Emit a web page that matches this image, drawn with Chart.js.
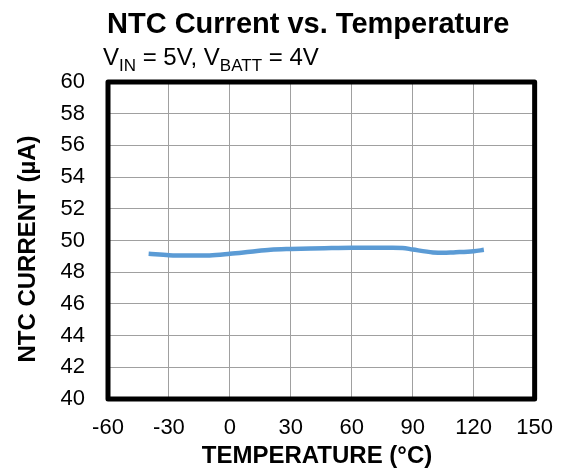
<!DOCTYPE html>
<html>
<head>
<meta charset="utf-8">
<script src="https://cdn.jsdelivr.net/npm/chart.js@4/dist/chart.umd.min.js"></script>
<style>
  html, body { margin: 0; padding: 0; background: #fff; }
  #wrap { width: 569px; height: 469px; }
</style>
</head>
<body>
<div id="wrap"><canvas id="c" width="569" height="469"></canvas></div>
<script>
// Temperature sweep (°C) and measured NTC current (µA)
const temperatures = [-40, -30, -20, -10, 0, 10, 20, 30, 40, 50, 60, 70, 80, 85, 90, 100, 105, 110, 120, 125];
const ntcCurrent   = [49.16, 49.07, 49.05, 49.06, 49.16, 49.29, 49.42, 49.47, 49.50, 49.52, 49.54, 49.54, 49.54, 49.53, 49.43, 49.25, 49.22, 49.25, 49.32, 49.41];

const xTicks = [-60, -30, 0, 30, 60, 90, 120, 150];
const yTicks = [40, 42, 44, 46, 48, 50, 52, 54, 56, 58, 60];

const chartTitle = 'NTC Current vs. Temperature';
const xTitle = 'TEMPERATURE (°C)';
const yTitle = 'NTC CURRENT (µA)';
// Conditions line: [text, isSubscript]
const conditions = [['V', false], ['IN', true], [' = 5V, V', false], ['BATT', true], [' = 4V', false]];

const FONT = "'Liberation Sans', Arial, sans-serif";

// Titles, subscripted conditions line and the heavy frame around the plot
const decorations = {
  id: 'decorations',
  afterDraw(chart) {
    const ctx = chart.ctx;
    const a = chart.chartArea;
    ctx.save();
    ctx.strokeStyle = '#000';
    ctx.lineWidth = 5;
    ctx.lineJoin = 'round';
    ctx.strokeRect(a.left, a.top, a.right - a.left, a.bottom - a.top);

    ctx.fillStyle = '#000';
    ctx.textBaseline = 'alphabetic';
    ctx.textAlign = 'left';
    ctx.font = 'bold 29px ' + FONT;
    ctx.fillText(chartTitle, 107, 33);

    let x = 103;
    const base = 65;
    for (const [t, sub] of conditions) {
      ctx.font = (sub ? '17px ' : '24px ') + FONT;
      ctx.fillText(t, x, sub ? base + 6 : base);
      x += ctx.measureText(t).width;
    }

    ctx.font = 'bold 24px ' + FONT;
    ctx.textAlign = 'center';
    ctx.fillText(xTitle, 317, 463);

    ctx.translate(35, 249);
    ctx.rotate(-Math.PI / 2);
    ctx.fillText(yTitle, 0, 0);
    ctx.restore();
  }
};

new Chart(document.getElementById('c'), {
  type: 'line',
  data: {
    datasets: [{
      data: temperatures.map((t, i) => ({ x: t, y: ntcCurrent[i] })),
      borderColor: '#5B9BD5',
      borderWidth: 4.5,
      pointRadius: 0,
      cubicInterpolationMode: 'monotone',
      fill: false
    }]
  },
  options: {
    responsive: false,
    animation: false,
    layout: { padding: { left: 0, right: 30, top: 82, bottom: 0 } },
    plugins: { legend: { display: false }, tooltip: { enabled: false }, title: { display: false } },
    scales: {
      x: {
        type: 'linear',
        min: -60, max: 150,
        afterBuildTicks(s) { s.ticks = xTicks.map(v => ({ value: v })); },
        afterFit(s) { s.height = 70; },
        grid: { color: '#a0a0a0', lineWidth: 1, drawTicks: false },
        border: { display: false },
        ticks: { color: '#000', font: { family: FONT, size: 22 }, padding: 16, maxRotation: 0 }
      },
      y: {
        min: 40, max: 60,
        afterBuildTicks(s) { s.ticks = yTicks.map(v => ({ value: v })); },
        afterFit(s) { s.width = 108; },
        grid: { color: '#a0a0a0', lineWidth: 1, drawTicks: false },
        border: { display: false },
        ticks: { color: '#000', font: { family: FONT, size: 22 }, padding: 23 }
      }
    }
  },
  plugins: [decorations]
});
</script>
</body>
</html>
